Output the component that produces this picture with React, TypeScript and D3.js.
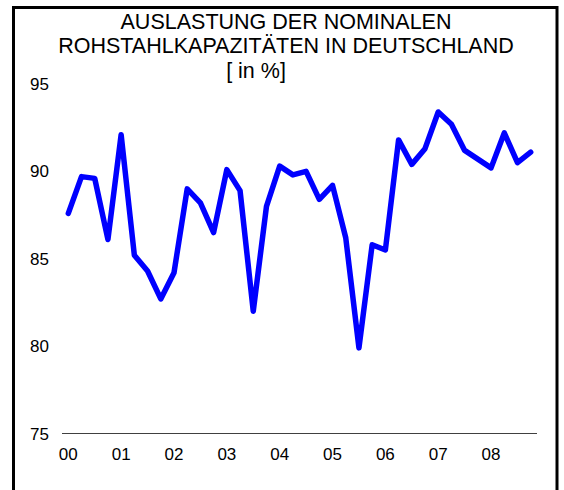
import * as d3 from "d3";
import React, { useEffect, useRef } from "react";

// quarterly capacity utilisation, 2000 Q1 .. 2008 Q4
const utilisation: number[] = [
  87.6, 89.7, 89.6, 86.1,
  92.1, 85.2, 84.3, 82.7,
  84.2, 89.0, 88.2, 86.5,
  90.1, 88.9, 82.0, 88.0,
  90.3, 89.8, 90.0, 88.4,
  89.2, 86.2, 79.9, 85.8,
  85.5, 91.8, 90.4, 91.3,
  93.4, 92.7, 91.2, 90.7,
  90.2, 92.2, 90.5, 91.1,
];
const yearLabels: string[] = ["00", "01", "02", "03", "04", "05", "06", "07", "08"];
const yTicks: number[] = [75, 80, 85, 90, 95];
const titleLines: string[] = [
  "AUSLASTUNG DER NOMINALEN",
  "ROHSTAHLKAPAZITÄTEN IN DEUTSCHLAND",
  "[ in %]",
];
// the unit line sits a bit left of the title centre in the original
const titleX: number[] = [286, 286, 256];

const WIDTH = 564;
const HEIGHT = 490;
const FONT = "'Liberation Sans', Arial, Helvetica, sans-serif";

const App = () => {
  const svgRef = useRef<SVGSVGElement | null>(null);

  useEffect(() => {
    if (!svgRef.current) return;
    const svg = d3.select(svgRef.current);
    svg.selectAll("*").remove();

    const x = d3
      .scaleLinear()
      .domain([0, utilisation.length - 1])
      .range([68.3, 530.7]);

    const y = d3.scaleLinear().domain([75, 95]).range([433.5, 84]);

    // frame
    svg
      .append("rect")
      .attr("x", 13.5)
      .attr("y", 7.5)
      .attr("width", 543.5)
      .attr("height", 520)
      .attr("fill", "none")
      .attr("stroke", "#000")
      .attr("stroke-width", 3);

    // title
    svg
      .append("g")
      .selectAll("text")
      .data(titleLines)
      .enter()
      .append("text")
      .attr("x", (_d, i) => titleX[i])
      .attr("y", (_d, i) => 28.5 + i * 24.6)
      .attr("text-anchor", "middle")
      .style("font-family", FONT)
      .style("font-size", "21.5px")
      .style("fill", "#000")
      .text((d) => d);

    // y labels
    svg
      .append("g")
      .selectAll("text")
      .data(yTicks)
      .enter()
      .append("text")
      .attr("x", 49)
      .attr("y", (d) => y(d))
      .attr("dy", "0.36em")
      .attr("text-anchor", "end")
      .style("font-family", FONT)
      .style("font-size", "17px")
      .style("fill", "#000")
      .text((d) => d);

    // x axis line
    svg
      .append("line")
      .attr("x1", 62)
      .attr("x2", 537)
      .attr("y1", y(75))
      .attr("y2", y(75))
      .attr("stroke", "#404040")
      .attr("stroke-width", 1.2);

    // x labels, one per year at the first quarter
    svg
      .append("g")
      .selectAll("text")
      .data(yearLabels)
      .enter()
      .append("text")
      .attr("x", (_d, i) => x(i * 4))
      .attr("y", 459.5)
      .attr("text-anchor", "middle")
      .style("font-family", FONT)
      .style("font-size", "17px")
      .style("fill", "#000")
      .text((d) => d);

    const line = d3
      .line<number>()
      .x((_d, i) => x(i))
      .y((d) => y(d));

    svg
      .append("path")
      .datum(utilisation)
      .attr("fill", "none")
      .attr("stroke", "#0000ff")
      .attr("stroke-width", 5.5)
      .attr("stroke-linejoin", "round")
      .attr("stroke-linecap", "round")
      .attr("d", line);
  }, []);

  return (
    <svg
      ref={svgRef}
      width={WIDTH}
      height={HEIGHT}
      style={{ position: "absolute", left: 0, top: 0, display: "block", background: "#fff" }}
    />
  );
};

export default App;
